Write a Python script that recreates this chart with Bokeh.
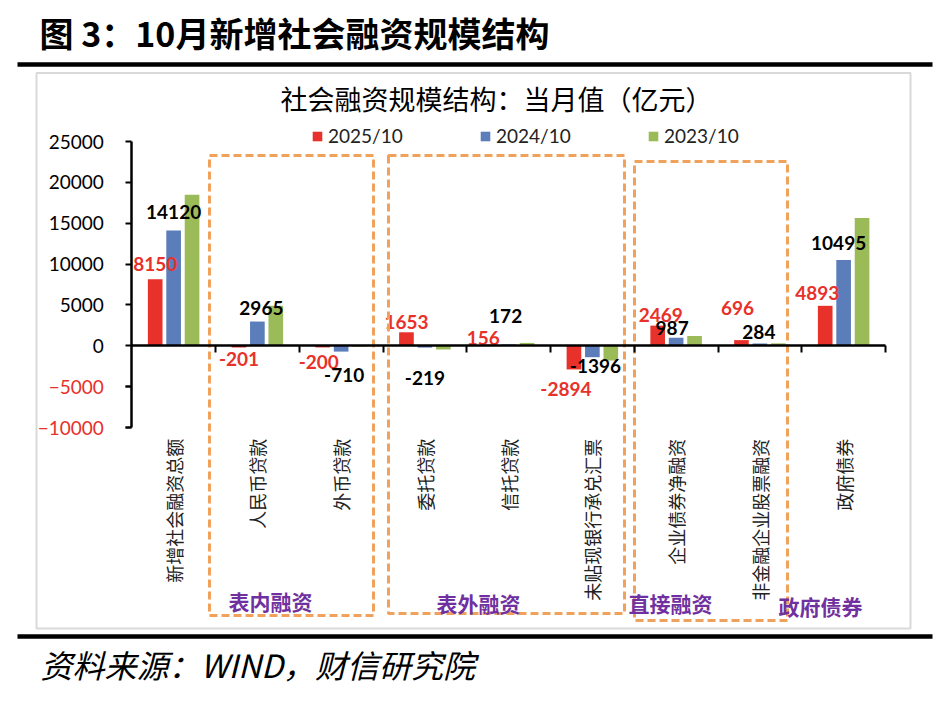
import math
from bokeh.plotting import figure
from bokeh.models import LinearAxis, FixedTicker, Range1d, ColumnDataSource, Label
from bokeh.core.properties import value
from bokeh.embed import file_html
from bokeh.resources import INLINE

# ---------------- data ----------------
categories = ["新增社会融资总额", "人民币贷款", "外币贷款", "委托贷款", "信托贷款",
              "未贴现银行承兑汇票", "企业债券净融资", "非金融企业股票融资", "政府债券"]
series_names = ["2025/10", "2024/10", "2023/10"]
v2025 = [8150, -201, -200, 1653, 156, -2894, 2469, 696, 4893]
v2024 = [14120, 2965, -710, -219, 172, -1396, 987, 284, 10495]
v2023 = [18500, 4900, -100, -450, 350, -1800, 1200, 300, 15650]
y_ticks = [-10000, -5000, 0, 5000, 10000, 15000, 20000, 25000]
group_names = ["表内融资", "表外融资", "直接融资", "政府债券"]

title_text = "图 3：10月新增社会融资规模结构"
chart_title = "社会融资规模结构：当月值（亿元）"
source_text = "资料来源：WIND，财信研究院"

# ---------------- styles ----------------
RED = "#E8312A"
BLUE = "#5B7DB9"
GREEN = "#9BBB59"
ORANGE = "#F0A25C"
PURPLE = "#7030A0"
CJK = "Noto Sans CJK SC"
NUM = "Lato"

W, H = 940, 710
# page-pixel -> data helpers (decoration placement only)
PX0, PXU = 131.25, 83.75
PY0, PYU = 345.3, 286.0 / 35000.0


def dx(px):
    return (px - PX0) / PXU


def dy(py):
    return (PY0 - py) / PYU


p = figure(width=W, height=H, x_range=Range1d(dx(0), dx(W)),
           y_range=Range1d(dy(H), dy(0)),
           x_axis_type=None, y_axis_type=None, min_border=0,
           outline_line_color=None, toolbar_location=None,
           output_backend="svg", background_fill_color="white",
           border_fill_color="white")
p.grid.visible = False

# frame decorations: rules and chart box
p.segment(x0=[dx(17), dx(17)], x1=[dx(932), dx(932)], y0=[dy(64), dy(636)],
          y1=[dy(64), dy(636)], line_color="black", line_width=4.5)
p.quad(left=[dx(36)], right=[dx(910)], top=[dy(72.5)], bottom=[dy(628)],
       fill_color=None, line_color="#D9D9D9", line_width=2)

# bars
n = len(categories)
offsets = [-0.22, 0.0, 0.22]
series_vals = [v2025, v2024, v2023]
colors = [RED, BLUE, GREEN]
for name, vals, off, col in zip(series_names, series_vals, offsets, colors):
    src = ColumnDataSource(dict(x=[i + 0.5 + off for i in range(n)], top=vals))
    p.vbar(x="x", top="top", bottom=0, width=0.175, source=src,
           fill_color=col, line_color=None, legend_label=name)

# data labels (pixel nudges)
red_dx = [0, 0, -4, 0, -7, -8, 3, -4, -8]
red_dy = [-15, 12, 15, -10, -7, 20, -11, -32, -13]
blk_dx = [0, 4, 3, 0, -3, 3, -4, -1, -5]
blk_dy = [-18, -14, 23, 30, -28, 9, -10, -11, -17]
lab_red = ColumnDataSource(dict(x=[i + 0.5 + offsets[0] for i in range(n)], y=v2025,
                                t=[str(v) for v in v2025], xo=red_dx, yo=red_dy))
lab_blk = ColumnDataSource(dict(x=[i + 0.5 + offsets[1] for i in range(n)], y=v2024,
                                t=[str(v) for v in v2024], xo=blk_dx, yo=blk_dy))
for src, col in [(lab_red, RED), (lab_blk, "black")]:
    p.text(x="x", y="y", text="t", x_offset="xo", y_offset="yo", source=src,
           text_font=value(NUM), text_font_style="bold", text_font_size="19px",
           text_color=col, text_align="center", text_baseline="middle")

# group boxes
box_l = [dx(209), dx(388), dx(634)]
box_r = [dx(373), dx(624), dx(787)]
box_t = [dy(155), dy(155), dy(161)]
box_b = [dy(615), dy(613), dy(620)]
p.quad(left=box_l, right=box_r, top=box_t, bottom=box_b, fill_color=None,
       line_color=ORANGE, line_width=3, line_dash="8 4")

# group labels
gx = [dx(270), dx(478), dx(670), dx(820)]
gy = [dy(600), dy(602), dy(602), dy(605)]
p.text(x=gx, y=gy, text=group_names, text_font=value(CJK), text_font_style="bold",
       text_font_size="21px", text_color=PURPLE, text_align="center",
       text_baseline="middle")

# titles
p.add_layout(Label(x=dx(39), y=dy(32), text=title_text, text_font=CJK,
                   text_font_style="bold", text_font_size="34px",
                   text_baseline="middle", text_color="black"))
p.add_layout(Label(x=dx(496), y=dy(98), text=chart_title, text_font=CJK,
                   text_font_size="27px", text_align="center",
                   text_baseline="middle", text_color="black"))
p.add_layout(Label(x=dx(40), y=dy(663), text=source_text, text_font=CJK,
                   text_font_style="italic", text_font_size="32px",
                   text_baseline="middle", text_color="black"))

# y axis (black labels >= 0)
ya = LinearAxis(fixed_location=0, bounds=(y_ticks[0], y_ticks[-1]),
                ticker=FixedTicker(ticks=y_ticks),
                major_label_overrides={t: "" for t in y_ticks if t < 0})
# y axis (red labels < 0)
ya2 = LinearAxis(fixed_location=0, bounds=(y_ticks[0], y_ticks[-1]),
                 ticker=FixedTicker(ticks=[t for t in y_ticks if t < 0]))
for ax, col in [(ya, "black"), (ya2, RED)]:
    ax.axis_line_color = "black" if ax is ya else None
    ax.axis_line_width = 2.5
    ax.major_tick_line_color = "black"
    ax.major_tick_line_width = 2
    ax.major_tick_in = 0
    ax.major_tick_out = 6
    ax.minor_tick_line_color = None
    ax.major_label_standoff = 22
    ax.major_label_text_font = NUM
    ax.major_label_text_font_size = "19px"
    ax.major_label_text_color = col
    p.add_layout(ax, "left")

# x axis at zero with boundary ticks
xa = LinearAxis(fixed_location=0, bounds=(0, n),
                ticker=FixedTicker(ticks=list(range(1, n + 1))))
xa.axis_line_color = "black"
xa.axis_line_width = 2.5
xa.major_tick_line_width = 2
xa.major_tick_in = 0
xa.major_tick_out = 7
xa.minor_tick_line_color = None
xa.major_label_text_font_size = "0px"
xa.major_label_text_color = None
p.add_layout(xa, "below")

# category labels axis
xc = LinearAxis(fixed_location=0,
                ticker=FixedTicker(ticks=[i + 0.5 for i in range(n)]),
                major_label_overrides={i + 0.5: c for i, c in enumerate(categories)})
xc.axis_line_color = None
xc.major_tick_line_color = None
xc.minor_tick_line_color = None
xc.major_tick_in = 0
xc.major_tick_out = 0
xc.major_label_standoff = 93
xc.major_label_orientation = math.pi / 2
xc.major_label_text_font = CJK
xc.major_label_text_font_size = "18px"
xc.major_label_text_color = "#222222"
p.add_layout(xc, "below")

# legend
lg = p.legend[0]
lg.orientation = "horizontal"
lg.location = (311, H - 147)
lg.glyph_width = 12
lg.glyph_height = 12
lg.label_height = 12
lg.label_standoff = 5
lg.label_width = 88
lg.spacing = 63
lg.padding = 0
lg.margin = 0
lg.border_line_color = None
lg.background_fill_alpha = 0
lg.label_text_font = NUM
lg.label_text_font_size = "19px"
lg.label_text_color = "#222222"

open("out.html", "w").write(file_html(p, INLINE))
